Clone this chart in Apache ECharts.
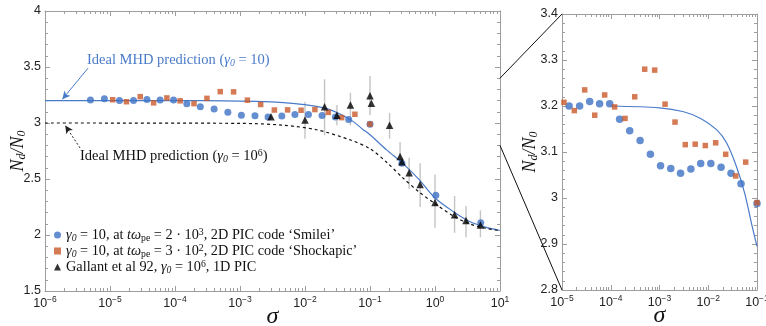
<!DOCTYPE html>
<html>
<head>
<meta charset="utf-8">
<script src="https://cdn.jsdelivr.net/npm/echarts@6/dist/echarts.min.js"></script>
<style>
  html, body { margin: 0; padding: 0; background: #fff; }
  #chart { width: 766px; height: 326px; }
</style>
</head>
<body>
<div id="chart"></div>
<script>
// Smilei, gamma0 = 10
const smileiSigma = [5e-6, 8.2e-6, 1.4e-5, 2.3e-5, 3.7e-5, 5.9e-5, 9.5e-5, 1.52e-4, 2.45e-4, 4e-4, 6.5e-4,
  1.05e-3, 1.7e-3, 2.7e-3, 4.4e-3, 7e-3, 1.13e-2, 1.83e-2, 2.93e-2, 4.7e-2, 0.1, 0.31, 1.03, 5.05];
const smileiN = [3.205, 3.217, 3.200, 3.200, 3.210, 3.205, 3.205, 3.171, 3.146, 3.125, 3.095,
  3.070, 3.064, 3.054, 3.063, 3.075, 3.075, 3.067, 3.054, 3.031, 2.988, 2.64, 2.354, 2.11];

// Shockapic, gamma0 = 10
const shockSigma = [1.1e-5, 1.79e-5, 2.92e-5, 4.69e-5, 7.5e-5, 1.2e-4, 1.96e-4, 3.1e-4, 4.97e-4, 7.97e-4,
  1.3e-3, 2.08e-3, 3.38e-3, 5.4e-3, 8.7e-3, 1.42e-2, 2.28e-2, 3.66e-2, 5.86e-2, 0.1];
const shockN = [3.208, 3.190, 3.235, 3.180, 3.224, 3.198, 3.173, 3.220, 3.280, 3.278,
  3.204, 3.165, 3.116, 3.117, 3.114, 3.120, 3.095, 3.048, 3.078, 2.99];

// Gallant et al 92 (with error bars, null = no bar)
const gallantSigma = [3e-3, 1e-2, 2e-2, 3.1e-2, 5e-2, 0.1, 0.105, 0.2, 0.29, 0.31, 0.4, 0.59, 1.0, 2.0, 3.0, 5.0];
const gallantN = [3.056, 3.027, 3.145, 3.07, 3.16, 3.244, 3.176, 2.98, 2.70, 2.655, 2.556, 2.45, 2.29, 2.18, 2.13, 2.09];
const gallantLow = [null, 2.86, 2.89, 2.98, 2.98, 3.07, null, 2.86, 2.62, null, 2.41, 2.25, 2.065, 2.02, 1.98, 1.98];
const gallantHigh = [null, 3.19, 3.39, 3.16, 3.27, 3.42, null, 3.09, 2.83, null, 2.69, 2.64, 2.54, 2.35, 2.26, 2.22];

// ideal MHD predictions
const mhd10Sigma = [1e-6, 1e-4, 1e-3, 3e-3, 7e-3, 1.5e-2, 2.4e-2, 3.8e-2, 5.6e-2, 7.7e-2, 0.1, 0.18, 0.32, 0.58, 1.0, 1.9, 3.4, 6.0, 10];
const mhd10N = [3.200, 3.200, 3.196, 3.188, 3.173, 3.148, 3.119, 3.068, 3.010, 2.945, 2.895, 2.76, 2.64, 2.49, 2.33, 2.21, 2.12, 2.07, 2.04];
const mhd1e6Sigma = [1e-6, 1e-3, 4.6e-3, 1.5e-2, 4.9e-2, 0.1, 0.18, 0.32, 0.58, 1.0, 1.9, 3.4, 6.0, 10];
const mhd1e6N = [3.000, 2.997, 2.98, 2.94, 2.85, 2.77, 2.65, 2.51, 2.38, 2.28, 2.17, 2.10, 2.06, 2.04];

const mainTicks = [1e-6, 1e-5, 1e-4, 1e-3, 1e-2, 1e-1, 1, 10];
const insetTicks = [1e-5, 1e-4, 1e-3, 1e-2, 1e-1];

// annotation arrows (data coords)
const arrow10 = [[4.6e-6, 3.49], [1.85e-6, 3.212]];
const arrow1e6 = [[3.46e-6, 2.777], [2.05e-6, 2.978]];

const BLUE = '#3d72c4';
const LINEBLUE = '#4a7bc9';
const ORANGE = '#c9592a';
const FRAME = '#9d9d9d';
const SANS = 'Liberation Sans';
const SERIF = 'Liberation Serif';

function pairs(xs, ys) { return xs.map((x, i) => [x, ys[i]]); }
function minorOf(ticks) {
  const out = [];
  for (let i = 0; i < ticks.length - 1; i++) {
    for (let m = 2; m < 10; m++) out.push(ticks[i] * m);
  }
  return out;
}
function expLabel(v) {
  const e = Math.round(Math.log10(v));
  return '{b|10}{e|' + (e < 0 ? '\u2212' + (-e) : e) + '}';
}
const expRich = {
  b: { fontFamily: SANS, fontSize: 12.5, color: '#222', lineHeight: 18 },
  e: { fontFamily: SANS, fontSize: 8.5, color: '#222', lineHeight: 10, verticalAlign: 'top' }
};

function logAxis(grid, pos, ticks, labels) {
  return {
    type: 'log', logBase: 10, gridIndex: grid, position: pos,
    min: ticks[0], max: ticks[ticks.length - 1],
    axisLine: { show: true, onZero: false, lineStyle: { color: FRAME, width: 1 } },
    axisTick: { show: true, inside: true, length: 5, customValues: ticks, lineStyle: { color: FRAME } },
    axisLabel: { show: labels, customValues: ticks, formatter: expLabel, margin: 4, rich: expRich },
    splitLine: { show: false }
  };
}
function minorAxis(grid, pos, ticks) {
  return {
    type: 'log', logBase: 10, gridIndex: grid, position: pos,
    min: ticks[0], max: ticks[ticks.length - 1],
    axisLine: { show: false },
    axisTick: { show: true, inside: true, length: 3, customValues: minorOf(ticks), lineStyle: { color: FRAME } },
    axisLabel: { show: false },
    splitLine: { show: false }
  };
}
function valAxis(grid, pos, min, max, step, labels, name, gap) {
  return {
    type: 'value', gridIndex: grid, position: pos, min: min, max: max, interval: step,
    axisLine: { show: true, onZero: false, lineStyle: { color: FRAME, width: 1 } },
    axisTick: { show: true, inside: true, length: 5, lineStyle: { color: FRAME } },
    minorTick: { show: true, splitNumber: 5, length: 3, lineStyle: { color: FRAME } },
    axisLabel: { show: labels, fontFamily: SANS, fontSize: 12.5, color: '#222', margin: 4 },
    splitLine: { show: false },
    name: name || '', nameLocation: 'middle', nameGap: gap || 0, nameRotate: 90, nameMoveOverlap: false,
    nameTextStyle: {
      rich: {
        i: { fontFamily: SERIF, fontStyle: 'italic', fontSize: 18, color: '#111', lineHeight: 20 },
        s: { fontFamily: SERIF, fontStyle: 'italic', fontSize: 12, color: '#111', lineHeight: 11, verticalAlign: 'bottom' }
      }
    }
  };
}
const ndName = '{i|N}{s|d}{i|/N}{s|0}';
const sigmaName = {
  name: '\u03c3', nameLocation: 'middle', nameGap: 14, nameMoveOverlap: false,
  nameTextStyle: { fontFamily: SERIF, fontStyle: 'italic', fontSize: 24, color: '#111' }
};

const gridMain = { left: 45, top: 11, width: 455, height: 280 };
const gridInset = { left: 562, top: 14, width: 195, height: 276 };

const xAxes = [
  Object.assign(logAxis(0, 'bottom', mainTicks, true), sigmaName),
  logAxis(0, 'top', mainTicks, false),
  Object.assign(logAxis(1, 'bottom', insetTicks, true), sigmaName),
  logAxis(1, 'top', insetTicks, false),
  minorAxis(2, 'bottom', mainTicks),
  minorAxis(2, 'top', mainTicks),
  minorAxis(3, 'bottom', insetTicks),
  minorAxis(3, 'top', insetTicks)
];
const yAxes = [
  valAxis(0, 'left', 1.5, 4, 0.5, true, ndName, 17),
  valAxis(0, 'right', 1.5, 4, 0.5, false),
  valAxis(1, 'left', 2.8, 3.4, 0.1, true, ndName, 22),
  valAxis(1, 'right', 2.8, 3.4, 0.1, false),
  { type: 'value', gridIndex: 2, show: false, min: 0, max: 1 },
  { type: 'value', gridIndex: 3, show: false, min: 0, max: 1 }
];

const errData = gallantSigma
  .map((s, i) => [s, gallantLow[i], gallantHigh[i]])
  .filter(d => d[1] != null);

const inInset = (xs, ys) => pairs(xs, ys).filter(p => p[0] >= 1e-5 && p[0] <= 0.1);

const legendText = {
  'Smilei': '{i|\u03b3}{sub|0}{t| = 10, at }{i|t\u03c9}{subr|pe}{t| = 2 \u00b7 10}{sup|3}{t|, 2D PIC code \u2018Smilei\u2019}',
  'Shockapic': '{i|\u03b3}{sub|0}{t| = 10, at }{i|t\u03c9}{subr|pe}{t| = 3 \u00b7 10}{sup|2}{t|, 2D PIC code \u2018Shockapic\u2019}',
  'Gallant': '{t|Gallant et al 92, }{i|\u03b3}{sub|0}{t| = 10}{sup|6}{t|, 1D PIC}'
};
function mathRich(color, size) {
  return {
    t: { fontFamily: SERIF, fontSize: size, color: color, lineHeight: 16 },
    i: { fontFamily: SERIF, fontStyle: 'italic', fontSize: size, color: color, lineHeight: 16 },
    sub: { fontFamily: SERIF, fontStyle: 'italic', fontSize: size * 0.68, color: color, lineHeight: 9, verticalAlign: 'bottom' },
    subr: { fontFamily: SERIF, fontSize: size * 0.68, color: color, lineHeight: 9, verticalAlign: 'bottom' },
    sup: { fontFamily: SERIF, fontSize: size * 0.68, color: color, lineHeight: 9, verticalAlign: 'top' }
  };
}
function toFill(rich) {
  const out = {};
  Object.keys(rich).forEach(k => {
    const r = Object.assign({}, rich[k]);
    r.fill = r.color; delete r.color;
    out[k] = r;
  });
  return out;
}

const chart = echarts.init(document.getElementById('chart'));
chart.setOption({
  animation: false,
  backgroundColor: '#fff',
  grid: [gridMain, gridInset, gridMain, gridInset].map(g => Object.assign({ containLabel: false, outerBoundsMode: 'none' }, g)),
  xAxis: xAxes,
  yAxis: yAxes,
  legend: {
    orient: 'vertical', left: 49, top: 222, itemWidth: 7, itemHeight: 7, itemGap: 0,
    selectedMode: false,
    data: [
      { name: 'Smilei', icon: 'circle', itemStyle: { color: BLUE } },
      { name: 'Shockapic', icon: 'rect', itemStyle: { color: ORANGE } },
      { name: 'Gallant', icon: 'triangle', itemStyle: { color: '#000' } }
    ],
    formatter: n => legendText[n],
    textStyle: { rich: mathRich('#111', 14.3) }
  },
  series: [
    {
      type: 'line', name: 'mhd10', xAxisIndex: 0, yAxisIndex: 0, data: pairs(mhd10Sigma, mhd10N),
      showSymbol: false, smooth: 0.3, lineStyle: { color: LINEBLUE, width: 1.2 }, z: 2, silent: true,
      markLine: {
        silent: true, symbol: ['none', 'arrow'], symbolSize: [6, 8], label: { show: false },
        lineStyle: { color: LINEBLUE, width: 1, type: 'solid' },
        data: [[{ coord: arrow10[0] }, { coord: arrow10[1] }]]
      }
    },
    {
      type: 'line', name: 'mhd1e6', xAxisIndex: 0, yAxisIndex: 0, data: pairs(mhd1e6Sigma, mhd1e6N),
      showSymbol: false, smooth: 0.3, lineStyle: { color: '#111', width: 1.2, type: [3, 3] }, z: 2, silent: true,
      markLine: {
        silent: true, symbol: ['none', 'arrow'], symbolSize: [6, 8], label: { show: false },
        lineStyle: { color: '#222', width: 1, type: [2, 2] },
        data: [[{ coord: arrow1e6[0] }, { coord: arrow1e6[1] }]]
      }
    },
    {
      type: 'custom', name: 'err', xAxisIndex: 0, yAxisIndex: 0, data: errData, z: 1, silent: true,
      encode: { x: 0, y: [1, 2] },
      renderItem: (params, api) => {
        const lo = api.coord([api.value(0), api.value(1)]);
        const hi = api.coord([api.value(0), api.value(2)]);
        return { type: 'line', shape: { x1: lo[0], y1: lo[1], x2: hi[0], y2: hi[1] },
          style: { stroke: '#c4c4c4', lineWidth: 1.4 } };
      }
    },
    {
      type: 'scatter', name: 'Smilei', xAxisIndex: 0, yAxisIndex: 0, data: pairs(smileiSigma, smileiN),
      symbol: 'circle', symbolSize: 7, itemStyle: { color: BLUE }, z: 3
    },
    {
      type: 'scatter', name: 'Shockapic', xAxisIndex: 0, yAxisIndex: 0, data: pairs(shockSigma, shockN),
      symbol: 'rect', symbolSize: 5.5, itemStyle: { color: ORANGE }, z: 4
    },
    {
      type: 'scatter', name: 'Gallant', xAxisIndex: 0, yAxisIndex: 0, data: pairs(gallantSigma, gallantN),
      symbol: 'triangle', symbolSize: 7.5, itemStyle: { color: '#000' }, z: 5
    },
    {
      type: 'line', name: 'mhd10inset', xAxisIndex: 2, yAxisIndex: 2, data: inInset(mhd10Sigma, mhd10N),
      showSymbol: false, smooth: 0.3, lineStyle: { color: LINEBLUE, width: 1.2 }, z: 2, silent: true
    },
    {
      type: 'scatter', name: 'Smilei', xAxisIndex: 2, yAxisIndex: 2, data: inInset(smileiSigma, smileiN),
      symbol: 'circle', symbolSize: 7.5, itemStyle: { color: BLUE }, z: 3
    },
    {
      type: 'scatter', name: 'Shockapic', xAxisIndex: 2, yAxisIndex: 2, data: inInset(shockSigma, shockN),
      symbol: 'rect', symbolSize: 5.5, itemStyle: { color: ORANGE }, z: 4
    }
  ]
});

// zoom connectors and annotation texts
const toMain = v => chart.convertToPixel({ xAxisIndex: 0, yAxisIndex: 0 }, v);
const toInset = v => chart.convertToPixel({ xAxisIndex: 2, yAxisIndex: 2 }, v);
const a1 = toMain([10, 3.4]), b1 = toInset([1e-5, 3.4]);
const a2 = toMain([10, 2.8]), b2 = toInset([1e-5, 2.8]);
chart.setOption({
  graphic: [
    { type: 'line', shape: { x1: a1[0], y1: a1[1], x2: b1[0], y2: b1[1] }, style: { stroke: '#111', lineWidth: 1 }, z: 10 },
    { type: 'line', shape: { x1: a2[0], y1: a2[1], x2: b2[0], y2: b2[1] }, style: { stroke: '#111', lineWidth: 1 }, z: 10 },
    {
      type: 'text', left: 87, top: 53, z: 10,
      style: { text: '{t|Ideal MHD prediction (}{i|\u03b3}{sub|0}{t| = 10)}', rich: toFill(mathRich(LINEBLUE, 14.5)) }
    },
    {
      type: 'text', left: 80, top: 148, z: 10,
      style: { text: '{t|Ideal MHD prediction (}{i|\u03b3}{sub|0}{t| = 10}{sup|6}{t|)}', rich: toFill(mathRich('#111', 14.5)) }
    }
  ]
});
</script>
</body>
</html>
